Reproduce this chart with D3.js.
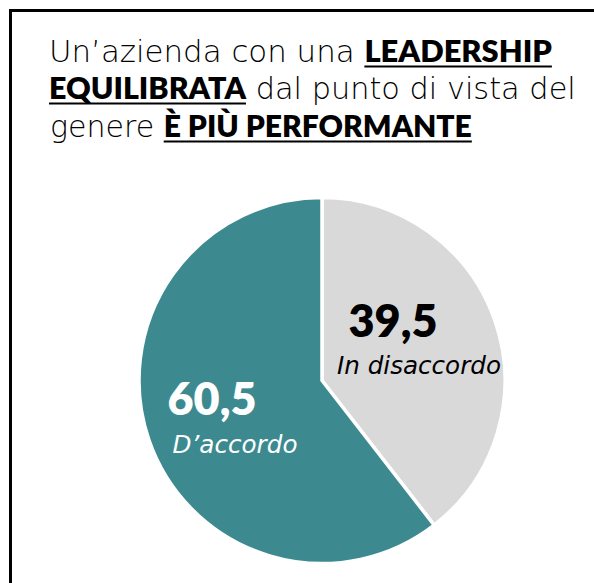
<!DOCTYPE html>
<html>
<head>
<meta charset="utf-8">
<script src="https://cdn.jsdelivr.net/npm/d3@7"></script>
<style>
  html, body { margin: 0; padding: 0; background: #fff; }
  svg { display: block; }
</style>
</head>
<body>
<svg id="chart" width="594" height="583"></svg>
<script>
// Survey answers (percentages)
const categories = ["In disaccordo", "D’accordo"];
const values = [39.5, 60.5];
const valueLabels = ["39,5", "60,5"];
const colors = ["#D9D9D9", "#3C8A90"];

// Title lines: [text, bold]
const titleLines = [
  [["Un’azienda con una ", false], ["LEADERSHIP", true]],
  [["EQUILIBRATA", true], [" dal punto di vista del", false]],
  [["genere ", false], ["È PIÙ PERFORMANTE", true]]
];

const svg = d3.select("#chart");
const W = 594, H = 583;

// Frame: only top and left edges visible
svg.append("path")
  .attr("d", `M10.5,${H} L10.5,10.5 L${W},10.5`)
  .attr("fill", "none")
  .attr("stroke", "#000")
  .attr("stroke-width", 3);

// Title
const regularFont = "'DejaVu Sans', sans-serif";
const boldFont = "Lato, 'Open Sans', sans-serif";
const italicFont = "'DejaVu Sans', sans-serif";
const lineLayout = [
  { y: 62, x0: 49, x1: 552 },
  { y: 99, x0: 49, x1: 576 },
  { y: 137, x0: 50, x1: 472 }
];

titleLines.forEach((segs, i) => {
  const L = lineLayout[i];
  const g = svg.append("g");
  const text = g.append("text")
    .attr("x", L.x0)
    .attr("y", L.y)
    .attr("fill", "#000")
    .style("font-size", "30px");
  segs.forEach(([t, b]) => {
    text.append("tspan")
      .text(t)
      .style("font-family", b ? boldFont : regularFont)
      .style("font-weight", b ? 800 : 300)
      .attr("xml:space", "preserve");
  });
  // fit line width
  const w = text.node().getComputedTextLength();
  const fs = 30 * (L.x1 - L.x0) / w;
  text.style("font-size", fs + "px");
  // underline bold runs
  let offset = 0;
  const node = text.node();
  segs.forEach(([t, b]) => {
    const n = t.length;
    if (b) {
      const sx = node.getStartPositionOfChar(offset).x;
      const ex = node.getEndPositionOfChar(offset + n - 1).x;
      g.append("line")
        .attr("x1", sx).attr("x2", ex)
        .attr("y1", L.y + 4.5).attr("y2", L.y + 4.5)
        .attr("stroke", "#000")
        .attr("stroke-width", 2);
    }
    offset += n;
  });
});

// Pie
const cx = 322, cy = 380.5, R = 183;
const pie = d3.pie().sort(null).value(d => d.value);
const arc = d3.arc().innerRadius(0).outerRadius(R);
const data = categories.map((c, i) => ({ cat: c, value: values[i], label: valueLabels[i], color: colors[i] }));

const gp = svg.append("g").attr("transform", `translate(${cx},${cy})`);
gp.selectAll("path")
  .data(pie(data))
  .join("path")
  .attr("d", arc)
  .attr("fill", d => d.data.color)
  .attr("stroke", "#fff")
  .attr("stroke-width", 3.5)
  .attr("stroke-linejoin", "miter");

// Labels
const labelPos = [
  { vx: 393, vy: 337, cx: 419, cy: 374, fill: "#000", vw: 89, cw: 164 },
  { vx: 212, vy: 415, cx: 235, cy: 453, fill: "#fff", vw: 89, cw: 125 }
];
data.forEach((d, i) => {
  const p = labelPos[i];
  const v = svg.append("text")
    .attr("x", p.vx).attr("y", p.vy)
    .attr("text-anchor", "middle")
    .attr("fill", p.fill)
    .style("font-family", boldFont)
    .style("font-weight", 800)
    .style("font-size", "44px")
    .text(d.label);
  const vw = v.node().getComputedTextLength();
  v.style("font-size", (44 * p.vw / vw) + "px");
  const c = svg.append("text")
    .attr("x", p.cx).attr("y", p.cy)
    .attr("text-anchor", "middle")
    .attr("fill", p.fill)
    .style("font-family", italicFont)
    .style("font-style", "italic")
    .style("font-weight", 300)
    .style("font-size", "22px")
    .text(d.cat);
  const cw = c.node().getComputedTextLength();
  c.style("font-size", (22 * p.cw / cw) + "px");
});
</script>
</body>
</html>
